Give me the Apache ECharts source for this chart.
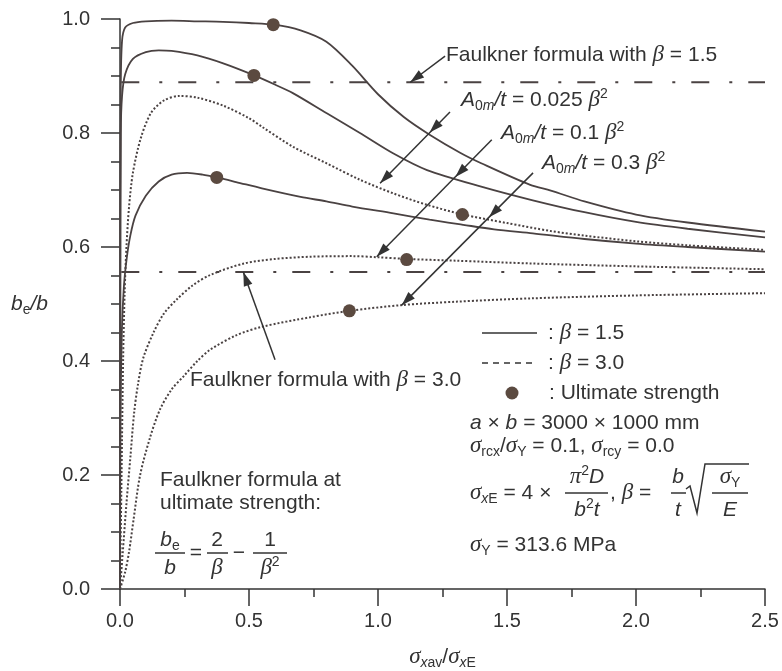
<!DOCTYPE html>
<html>
<head>
<meta charset="utf-8">
<script src="https://cdn.jsdelivr.net/npm/echarts@6/dist/echarts.min.js"></script>
<style>
  html, body { margin: 0; padding: 0; background: #fff; }
  #main { width: 782px; height: 671px; }
</style>
</head>
<body>
<div id="main"></div>
<script>
// values: [sigma_xav / sigma_xE, b_e / b]
// beta = 1.5 (solid)
const b15_a0025 = [[0,0],[0.001,0.5],[0.003,0.88],[0.008,0.962],[0.02,0.985],[0.05,0.993],[0.1,0.996],[0.2,0.997],[0.3,0.996],[0.4,0.995],[0.5,0.993],[0.6,0.99],[0.7,0.98],[0.8,0.96],[0.9,0.918],[1.0,0.868],[1.1,0.828],[1.2,0.797],[1.32,0.765],[1.4,0.747],[1.59,0.709],[1.67,0.699],[1.8,0.68],[2.0,0.657],[2.2,0.643],[2.5,0.627]];
const b15_a01 = [[0,0],[0.001,0.5],[0.003,0.8],[0.008,0.865],[0.02,0.903],[0.05,0.93],[0.1,0.942],[0.15,0.945],[0.2,0.944],[0.3,0.936],[0.4,0.922],[0.52,0.901],[0.6,0.885],[0.67,0.87],[0.8,0.835],[0.93,0.8],[1.06,0.764],[1.19,0.735],[1.4,0.706],[1.6,0.682],[1.8,0.661],[2.0,0.644],[2.2,0.632],[2.5,0.617]];
const b15_a03 = [[0,0],[0.002,0.3],[0.007,0.45],[0.015,0.53],[0.026,0.58],[0.04,0.62],[0.06,0.655],[0.1,0.69],[0.15,0.715],[0.2,0.727],[0.26,0.73],[0.32,0.727],[0.375,0.722],[0.45,0.714],[0.55,0.703],[0.7,0.688],[0.8,0.68],[0.9,0.671],[1.06,0.659],[1.2,0.648],[1.33,0.639],[1.45,0.631],[1.6,0.624],[1.8,0.614],[2.0,0.606],[2.2,0.6],[2.5,0.592]];
// beta = 3.0 (dotted)
const b30_a0025 = [[0,0],[0.006,0.2],[0.012,0.4],[0.018,0.52],[0.025,0.6],[0.035,0.67],[0.05,0.73],[0.08,0.79],[0.12,0.835],[0.17,0.857],[0.23,0.865],[0.3,0.862],[0.4,0.848],[0.5,0.826],[0.55,0.811],[0.67,0.776],[0.8,0.747],[0.93,0.718],[1.06,0.694],[1.19,0.674],[1.33,0.657],[1.5,0.642],[1.67,0.628],[1.8,0.62],[2.0,0.61],[2.2,0.603],[2.5,0.595]];
const b30_a01 = [[0,0],[0.01,0.06],[0.025,0.15],[0.04,0.23],[0.055,0.31],[0.07,0.36],[0.09,0.405],[0.13,0.45],[0.17,0.483],[0.22,0.508],[0.28,0.532],[0.35,0.551],[0.48,0.571],[0.6,0.579],[0.74,0.583],[0.9,0.584],[1.0,0.582],[1.11,0.579],[1.3,0.576],[1.6,0.571],[2.0,0.566],[2.5,0.561]];
const b30_a03 = [[0,0],[0.02,0.03],[0.035,0.065],[0.052,0.12],[0.078,0.2],[0.116,0.265],[0.155,0.315],[0.2,0.35],[0.25,0.375],[0.3,0.4],[0.35,0.42],[0.45,0.445],[0.55,0.46],[0.74,0.477],[0.89,0.488],[1.09,0.498],[1.3,0.504],[1.6,0.51],[2.0,0.515],[2.5,0.519]];
// ultimate strength points
const ultimate = [[0.594,0.99],[0.519,0.901],[0.375,0.722],[1.327,0.657],[1.111,0.578],[0.889,0.488]];
// Faulkner formula at ultimate strength
const faulkner15 = [[0.005,0.889],[2.5,0.889]];
const faulkner30 = [[0.005,0.556],[2.5,0.556]];

const INK = '#333';
const CURVE = '#4a4242';
const DOT = '#5b4a40';
const SANS = '"Liberation Sans", Arial, sans-serif';
const SERIF = '"Liberation Serif", "DejaVu Serif", serif';

function curve(data, dotted) {
  return {
    type: 'line', data: data, symbol: 'none', silent: true,
    smooth: 0.3,
    lineStyle: { color: CURVE, width: dotted ? 2 : 1.8, type: dotted ? [2, 2] : 'solid' }
  };
}
function faulkner(data) {
  return {
    type: 'line', data: data, symbol: 'none', silent: true,
    lineStyle: { color: CURVE, width: 2, type: [18, 20, 3, 16] }
  };
}

const axisRich = {
  n: { fontSize: 21, fontFamily: SANS, lineHeight: 26, color: INK },
  i: { fontSize: 21, fontFamily: SANS, fontStyle: 'italic', lineHeight: 26, color: INK },
  g: { fontSize: 23, fontFamily: SERIF, fontStyle: 'italic', lineHeight: 26, color: INK },
  s: { fontSize: 14, fontFamily: SANS, lineHeight: 13, verticalAlign: 'bottom', color: INK },
  si: { fontSize: 14, fontFamily: SANS, fontStyle: 'italic', lineHeight: 13, verticalAlign: 'bottom', color: INK }
};

const option = {
  backgroundColor: '#fff',
  animation: false,
  grid: { left: 120, right: 17, top: 19, bottom: 82, outerBoundsMode: 'none' },
  xAxis: {
    type: 'value', min: 0, max: 2.5, interval: 0.5,
    name: '{g|σ}{si|x}{s|av}{n|/}{g|σ}{si|x}{s|E}',
    nameLocation: 'middle', nameGap: 55,
    nameTextStyle: { rich: axisRich },
    axisLine: { lineStyle: { color: INK, width: 1.5 } },
    axisTick: { length: 17, lineStyle: { color: INK, width: 1.5 } },
    minorTick: { show: true, splitNumber: 2, length: 8, lineStyle: { color: INK, width: 1.5 } },
    splitLine: { show: false },
    axisLabel: { margin: 22, fontSize: 20, fontFamily: SANS, color: INK, formatter: v => v.toFixed(1) }
  },
  yAxis: {
    type: 'value', min: 0, max: 1, interval: 0.2,
    name: '{i|b}{s|e}{i|/b}',
    nameLocation: 'middle', nameRotate: 0, nameGap: 72,
    nameTextStyle: { rich: axisRich },
    axisLine: { lineStyle: { color: INK, width: 1.5 } },
    axisTick: { length: 19, lineStyle: { color: INK, width: 1.5 } },
    minorTick: { show: true, splitNumber: 4, length: 9, lineStyle: { color: INK, width: 1.5 } },
    splitLine: { show: false },
    axisLabel: { margin: 30, fontSize: 20, fontFamily: SANS, color: INK, formatter: v => v.toFixed(1) }
  },
  series: [
    faulkner(faulkner15),
    faulkner(faulkner30),
    curve(b15_a0025, false),
    curve(b15_a01, false),
    curve(b15_a03, false),
    curve(b30_a0025, true),
    curve(b30_a01, true),
    curve(b30_a03, true),
    {
      type: 'scatter', data: ultimate, symbolSize: 13, silent: true, z: 5,
      itemStyle: { color: DOT, opacity: 1 }
    }
  ]
};

const chart = echarts.init(document.getElementById('main'));
chart.setOption(option);

// annotations ----------------------------------------------------------
const px = p => chart.convertToPixel({ gridIndex: 0 }, p);

const rich = {
  n: { fontSize: 21, fontFamily: SANS, lineHeight: 26 },
  i: { fontSize: 21, fontFamily: SANS, fontStyle: 'italic', lineHeight: 26 },
  g: { fontSize: 23, fontFamily: SERIF, fontStyle: 'italic', lineHeight: 26 },
  s: { fontSize: 14, fontFamily: SANS, lineHeight: 13, verticalAlign: 'bottom' },
  si: { fontSize: 14, fontFamily: SANS, fontStyle: 'italic', lineHeight: 13, verticalAlign: 'bottom' },
  p: { fontSize: 14, fontFamily: SANS, lineHeight: 13, verticalAlign: 'top' }
};

function txt(x, y, text, align) {
  return {
    type: 'text', x: x, y: y, silent: true, z: 10,
    style: { text: text, rich: rich, fill: INK, fontSize: 21, fontFamily: SANS,
             align: align || 'left', verticalAlign: 'middle' }
  };
}
function seg(points, dash) {
  return {
    type: 'polyline', silent: true, z: 10,
    shape: { points: points },
    style: { stroke: INK, lineWidth: 1.5, fill: null, lineDash: dash || null }
  };
}
function head(tip, from) {
  const t = px(tip), f = px(from);
  const dx = t[0] - f[0], dy = t[1] - f[1], L = Math.hypot(dx, dy);
  const ux = dx / L, uy = dy / L, len = 14, w = 4.5;
  const bx = t[0] - ux * len, by = t[1] - uy * len;
  return {
    type: 'polygon', silent: true, z: 11,
    shape: { points: [t, [bx - uy * w, by + ux * w], [bx + uy * w, by - ux * w]] },
    style: { fill: INK }
  };
}
function arrow(from, to, mids) {
  const out = [seg([px(from), px(to)]), head(to, from)];
  (mids || []).forEach(m => out.push(head(m, from)));
  return out;
}

const els = [];
// leader arrows (data coordinates)
els.push(...arrow([1.26, 0.935], [1.125, 0.889]));
els.push(...arrow([1.279, 0.837], [1.008, 0.712], [[1.2, 0.801]]));
els.push(...arrow([1.441, 0.788], [0.995, 0.583], [[1.3, 0.723]]));
els.push(...arrow([1.601, 0.73], [1.092, 0.498], [[1.43, 0.652]]));
els.push(...arrow([0.601, 0.402], [0.478, 0.556]));

els.push(txt(446, 55, '{n|Faulkner formula with }{g|β}{n| = 1.5}'));
els.push(txt(461, 100, '{i|A}{s|0}{si|m}{i|/t}{n| = 0.025 }{g|β}{p|2}'));
els.push(txt(501, 133, '{i|A}{s|0}{si|m}{i|/t}{n| = 0.1 }{g|β}{p|2}'));
els.push(txt(542, 163, '{i|A}{s|0}{si|m}{i|/t}{n| = 0.3 }{g|β}{p|2}'));
els.push(txt(190, 380, '{n|Faulkner formula with }{g|β}{n| = 3.0}'));

// key
els.push(seg([[482, 333], [537, 333]]));
els.push(seg([[482, 363], [537, 363]], [6, 5]));
els.push({ type: 'circle', silent: true, z: 10, shape: { cx: 512, cy: 393, r: 6.5 }, style: { fill: DOT } });
els.push(txt(548, 333, '{n|: }{g|β}{n| = 1.5}'));
els.push(txt(548, 363, '{n|: }{g|β}{n| = 3.0}'));
els.push(txt(549, 393, '{n|: Ultimate strength}'));

els.push(txt(470, 423, '{i|a}{n| × }{i|b}{n| = 3000 × 1000 mm}'));
els.push(txt(470, 446, '{g|σ}{s|rcx}{n|/}{g|σ}{s|Y}{n| = 0.1, }{g|σ}{s|rcy}{n| = 0.0}'));

// sigma_xE = 4 x pi^2 D / b^2 t , beta = b/t sqrt(sigma_Y / E)
els.push(txt(470, 493, '{g|σ}{si|x}{s|E}{n| = 4 × }'));
els.push(txt(587, 477, '{g|π}{p|2}{i|D}', 'center'));
els.push(txt(587, 510, '{i|b}{p|2}{i|t}', 'center'));
els.push(seg([[565, 493], [608, 493]]));
els.push(txt(610, 493, '{n|, }{g|β}{n| =}'));
els.push(txt(678, 477, '{i|b}', 'center'));
els.push(txt(678, 510, '{i|t}', 'center'));
els.push(seg([[671, 493], [686, 493]]));
els.push(seg([[686, 489], [690, 486], [697, 513], [705, 464], [749, 464]]));
els.push(txt(730, 477, '{g|σ}{s|Y}', 'center'));
els.push(txt(730, 510, '{i|E}', 'center'));
els.push(seg([[712, 493], [748, 493]]));

els.push(txt(470, 545, '{g|σ}{s|Y}{n| = 313.6 MPa}'));

// Faulkner formula at ultimate strength
els.push(txt(160, 480, '{n|Faulkner formula at}'));
els.push(txt(160, 503, '{n|ultimate strength:}'));
els.push(txt(170, 540, '{i|b}{s|e}', 'center'));
els.push(txt(170, 568, '{i|b}', 'center'));
els.push(seg([[155, 553], [185, 553]]));
els.push(txt(196, 553, '{n|=}', 'center'));
els.push(txt(217, 540, '{n|2}', 'center'));
els.push(txt(217, 568, '{g|β}', 'center'));
els.push(seg([[207, 553], [228, 553]]));
els.push(txt(239, 553, '{n|−}', 'center'));
els.push(txt(270, 540, '{n|1}', 'center'));
els.push(txt(270, 568, '{g|β}{p|2}', 'center'));
els.push(seg([[253, 553], [287, 553]]));

chart.setOption({ graphic: { elements: els } });
</script>
</body>
</html>
